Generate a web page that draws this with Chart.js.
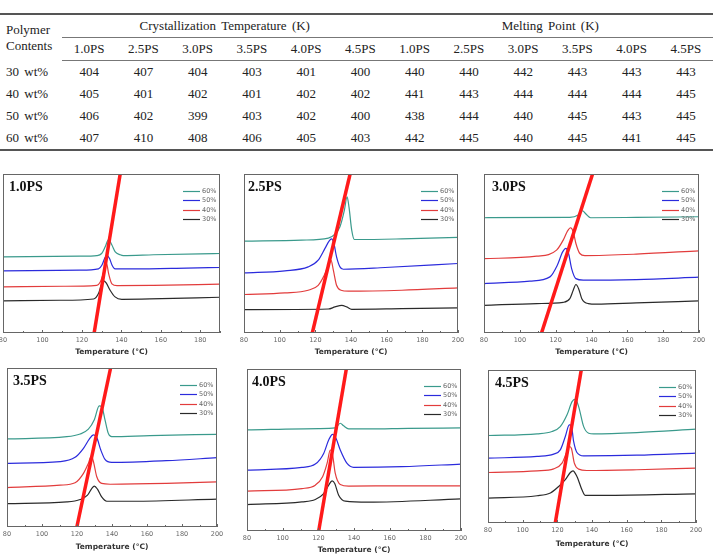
<!DOCTYPE html>
<html>
<head>
<meta charset="utf-8">
<script src="https://cdn.jsdelivr.net/npm/chart.js@4"></script>
<style>
  body { margin: 0; background: #fff; }
  #page { position: relative; width: 713px; height: 554px; overflow: hidden; background: #fff; }
  #tbl { position: absolute; left: 0; top: 13px; width: 713px; border-collapse: collapse; table-layout: fixed;
         font-family: "Liberation Serif", "Times New Roman", serif; font-size: 13px; color: #222; word-spacing: 2px; }
  #tbl td { padding: 0; text-align: center; height: 22px; line-height: 16px; }
  #tbl td.lab { text-align: left; padding-left: 6px; }
  #tbl tr.top td { border-top: 2px solid #555; }
  #tbl td.grp { border-bottom: 1px solid #777; }
  #tbl tr.sub td { border-bottom: 1px solid #777; }
  #tbl tr.last td { border-bottom: 2px solid #555; }
  canvas { position: absolute; }
</style>
</head>
<body>
<div id="page">
  <table id="tbl"></table>
</div>
<script>
// ---- table data ----
var contents = ['30  wt%', '40  wt%', '50  wt%', '60  wt%'];
var psGrades = ['1.0PS', '2.5PS', '3.0PS', '3.5PS', '4.0PS', '4.5PS'];
var crystTemp = [
  [404, 407, 404, 403, 401, 400],
  [405, 401, 402, 401, 402, 402],
  [406, 402, 399, 403, 402, 400],
  [407, 410, 408, 406, 405, 403]
];
var meltPoint = [
  [440, 440, 442, 443, 443, 443],
  [441, 443, 444, 444, 444, 445],
  [438, 444, 440, 445, 443, 445],
  [442, 445, 440, 445, 441, 445]
];

// ---- DSC curves, [temperature, signal] ----
var p1_60 = [[80,47.9],[119,48.3],[127.6,48.7],[130,50],[131.8,54.2],[133.5,58.8],[135.2,55.3],[136.9,51],[139.4,49.2],[141,48.7],[156.3,49.2],[179.9,49.8],[190,50]];
var p1_50 = [[80,39.1],[119,39.5],[128.4,40.3],[130.1,42.6],[131.5,46.8],[132.6,49],[134,46.8],[135.3,42.6],[136.8,40.3],[146,40.3],[173,40.8],[190,41.2]];
var p1_40 = [[80,29],[110.7,29.4],[127.6,30],[129.3,32.1],[130.6,36.5],[132.4,44.1],[133.6,37],[135.2,30.9],[137.8,29.8],[156.3,30],[190,30.7]];
var p1_30 = [[80,20.2],[109,20.6],[125.9,21.4],[128.4,24.8],[129.8,30],[131,32.8],[132.3,31.5],[134.3,26.9],[136.8,22.7],[140.2,21.2],[154.5,21.4],[190,22.5]];
var red1 = [[126.2,0],[139.4,100]];

var p2_60 = [[80,57.8],[112.3,58.4],[127.3,59.7],[131,62.2],[133.8,66.8],[136.3,77.3],[137.8,85.7],[138.9,79],[140.4,64.7],[141.9,58.8],[144,58.8],[168.5,59.2],[200,60.1]];
var p2_50 = [[80,37.8],[102.9,39.1],[116,41.6],[121.6,45.8],[125.4,53.2],[127.8,58],[129.1,59.2],[130.4,56.3],[131.9,47.9],[133.8,41.6],[135.7,40.1],[159.1,41.2],[200,43.7]];
var p2_40 = [[80,24.2],[102.9,25.2],[116,26.9],[121.6,30],[125,36.3],[127.3,42.6],[128.8,45.8],[130.1,39.5],[131.9,30],[134.4,26.9],[138.5,26.3],[168.5,26.9],[200,28.4]];
var p2_30 = [[80,14.7],[127.3,15.1],[131,16.4],[134.8,17.4],[137.6,16.4],[140.4,14.9],[168.5,15.3],[200,15.8]];
var red2 = [[118.3,0],[139.5,100]];

var p3_60 = [[80,72.5],[127.9,72.7],[132.6,74.2],[135,76.9],[136.9,74.8],[139.5,72.5],[165,72.7],[200,73.1]];
var p3_50 = [[80,31.1],[105.6,32.6],[116.8,35.3],[120.9,42.6],[123.9,51],[125.7,53.2],[127.2,50],[128.9,40.5],[131.3,34.2],[135.4,33.2],[165,33.6],[200,35.1]];
var p3_40 = [[80,46.8],[109.4,48.3],[120.5,52.1],[124.2,58.4],[126.4,63.7],[128.3,66.2],[129.8,63.7],[131.3,56.3],[133.5,50],[136.3,48.7],[165,49.6],[200,51.7]];
var p3_30 = [[80,17.4],[109.4,18.5],[124.2,19.3],[127.9,21.6],[129.8,26.9],[131.3,30.5],[132.8,27.9],[134.6,21.6],[138.2,18.5],[142.8,18.1],[165,18.9],[200,20.2]];
var red3 = [[112.1,0],[140.6,100]];

var p4_60 = [[80,55.4],[114.2,56.8],[121.8,58.5],[126.5,61.5],[129.9,67.4],[132.7,76.2],[134.1,75.8],[136,67.4],[137.9,58.9],[139.8,56.8],[161.7,57.5],[200,58.3]];
var p4_50 = [[80,40],[110.4,41.1],[118.9,43.8],[123.7,49.5],[127.1,55.4],[129.4,57.9],[131.3,56.2],[133.6,48.4],[136,42.5],[139.8,40.6],[171,41.7],[200,43.6]];
var p4_40 = [[80,24.8],[110.4,26.3],[118.9,27.8],[123.7,33.7],[126.5,40],[128.2,44.6],[129.4,41.1],[131.3,31.6],[134.1,27.4],[138.9,26.9],[171,27.4],[200,28.4]];
var p4_30 = [[80,14.7],[114.2,15.8],[121.8,17.3],[126,20],[128.4,24.2],[129.9,25.7],[131.7,23.8],[134.1,18.9],[137,16.2],[152,16.2],[200,17.5]];
var red4 = [[119.9,0],[139.2,100]];

var p5_60 = [[80,62.4],[120.2,63.2],[129.5,63.6],[132.3,66.5],[134.2,64.9],[137,63],[148.2,63],[170.6,63.4],[200,63.6]];
var p5_50 = [[80,37.6],[110.8,39.3],[118.3,41.3],[123,47.9],[125.8,56.2],[128,59.7],[129.9,57.2],[132.3,50],[136.1,41.7],[139.8,39.3],[167,39.7],[200,41.3]];
var p5_40 = [[80,24.6],[110.8,26.2],[118.3,28.3],[122.4,33.5],[124.9,41.7],[126.7,50],[128,46.9],[129.5,35.5],[132.3,28.7],[137,27.7],[167,27.9],[200,27.9]];
var p5_30 = [[80,16.3],[110.8,18],[118.3,19.4],[123,23.1],[125.8,28.3],[127.7,31],[129.2,29.3],[131.4,22.1],[135.1,18.4],[148,17.8],[200,19.8]];
var red5 = [[120.2,0],[135.7,100]];

var p6_60 = [[80,57.2],[108.3,58.3],[116.9,59.8],[121.7,63],[125.6,70.7],[128.5,79.3],[130.4,80.9],[132.3,76.1],[135.2,63],[138.1,58.7],[141,58.3],[165.9,59.1],[200,61.3]];
var p6_50 = [[80,42.4],[108.3,43.5],[117.9,45],[121.7,47.8],[124.6,56.5],[126.9,64.1],[128.1,63.5],[129.4,53.3],[131.3,46.1],[135.2,43.9],[165.9,44.3],[200,45.7]];
var p6_40 = [[80,33],[108.3,34.1],[117.9,35.4],[122.7,39.1],[125.2,45.7],[126.9,50],[128.1,48.9],[129.8,39.1],[132.3,35.2],[137,34.3],[165.9,34.8],[200,35.9]];
var p6_30 = [[80,16.3],[108.3,17.8],[116,19.6],[120.8,23.9],[124.6,28.3],[127.5,33],[129,34.1],[131.3,30.4],[134.2,21.7],[136.2,18],[146.8,18],[200,19.1]];
var red6 = [[118.8,0],[133.8,100]];

var seriesLabels = ['60%', '50%', '40%', '30%'];
var seriesColors = ['#3a9a8c', '#2b2bdc', '#e23c3c', '#2a2a2a'];

// panel placement: plot box left/top/right/bottom and x-title centre
var panels = [
  { name: '1.0PS', xmax: 190, curves: [p1_60, p1_50, p1_40, p1_30], red: red1, box: [3, 174, 220, 333], titleY: 352, lab: 6 },
  { name: '2.5PS', xmax: 200, curves: [p2_60, p2_50, p2_40, p2_30], red: red2, box: [244, 174, 458, 333], titleY: 352, lab: 4 },
  { name: '3.0PS', xmax: 200, curves: [p3_60, p3_50, p3_40, p3_30], red: red3, box: [484, 174, 699, 333], titleY: 352, lab: 8 },
  { name: '3.5PS', xmax: 200, curves: [p4_60, p4_50, p4_40, p4_30], red: red4, box: [7, 368, 217, 527], titleY: 547, lab: 6 },
  { name: '4.0PS', xmax: 200, curves: [p5_60, p5_50, p5_40, p5_30], red: red5, box: [247, 369, 461, 531], titleY: 550, lab: 5 },
  { name: '4.5PS', xmax: 200, curves: [p6_60, p6_50, p6_40, p6_30], red: red6, box: [488, 370, 696, 523], titleY: 544, lab: 7 }
];

// ---- build table ----
var tbl = document.getElementById('tbl');
var html = '<colgroup><col style="width:62px">';
for (var c = 0; c < 12; c++) html += '<col style="width:54.25px">';
html += '</colgroup>';
html += '<tr class="top"><td class="lab" rowspan="2">Polymer<br>Contents</td>' +
  '<td class="grp" colspan="6">Crystallization Temperature (K)</td>' +
  '<td class="grp" colspan="6">Melting Point (K)</td></tr>';
html += '<tr class="sub">';
psGrades.concat(psGrades).forEach(function(g) { html += '<td>' + g + '</td>'; });
html += '</tr>';
contents.forEach(function(name, r) {
  html += '<tr' + (r == contents.length - 1 ? ' class="last"' : '') + '><td class="lab">' + name + '</td>';
  crystTemp[r].concat(meltPoint[r]).forEach(function(v) { html += '<td>' + v + '</td>'; });
  html += '</tr>';
});
tbl.innerHTML = html;

// ---- panel decorations: frame, inward ticks, legend, panel name ----
var decor = {
  id: 'decor',
  afterDatasetsDraw: function(chart) {
    var ctx = chart.ctx, a = chart.chartArea, xs = chart.scales.x;
    ctx.save();
    ctx.strokeStyle = '#666';
    ctx.lineWidth = 1;
    ctx.strokeRect(a.left + 0.5, a.top + 0.5, a.right - a.left - 1, a.bottom - a.top - 1);
    xs.ticks.forEach(function(t) {
      var px = Math.round(xs.getPixelForValue(t.value)) + 0.5;
      var len = t.value % 20 == 0 ? 3 : 2;
      ctx.beginPath();
      ctx.moveTo(px, a.bottom);
      ctx.lineTo(px, a.bottom - len);
      ctx.stroke();
    });
    ctx.font = '6.5px "DejaVu Sans", sans-serif';
    ctx.textBaseline = 'middle';
    ctx.textAlign = 'left';
    chart.data.datasets.forEach(function(ds, i) {
      if (!ds.inLegend) return;
      var y = Math.round(a.top + 8 + i * 9.2) + 0.5;
      ctx.strokeStyle = ds.borderColor;
      ctx.lineWidth = 1.2;
      ctx.beginPath();
      ctx.moveTo(a.right - 37, y);
      ctx.lineTo(a.right - 20, y);
      ctx.stroke();
      ctx.fillStyle = '#666';
      ctx.fillText(ds.label, a.right - 18, y);
    });
    ctx.fillStyle = '#111';
    ctx.font = 'bold 14px "Liberation Serif", serif';
    ctx.fillText(chart.options.panelName, a.left + chart.options.panelLab, a.top + 13);
    ctx.restore();
  }
};

var PAD = 16;
var page = document.getElementById('page');
panels.forEach(function(p) {
  var L = p.box[0], T = p.box[1], R = p.box[2], B = p.box[3];
  var hx = Math.round(p.titleY + 4.5 - B);
  var cv = document.createElement('canvas');
  cv.width = R - L + 2 * PAD;
  cv.height = B - T + PAD + hx;
  cv.style.left = (L - PAD) + 'px';
  cv.style.top = (T - PAD) + 'px';
  page.appendChild(cv);

  var datasets = [{
    label: 'fit', inLegend: false, order: 0,
    data: p.red.map(function(d) { return { x: d[0], y: d[1] }; }),
    borderColor: '#ff1a1a', borderWidth: 3.5, tension: 0, pointRadius: 0
  }];
  p.curves.forEach(function(c, i) {
    datasets.push({
      label: seriesLabels[i], inLegend: true, order: 1,
      data: c.map(function(d) { return { x: d[0], y: d[1] }; }),
      borderColor: seriesColors[i], borderWidth: 1.2,
      cubicInterpolationMode: 'monotone', pointRadius: 0
    });
  });
  // legend rows follow curve order, so shift index past the red line
  datasets.forEach(function(ds, i) { ds._row = i - 1; });

  new Chart(cv, {
    type: 'line',
    data: { datasets: datasets },
    options: {
      panelName: p.name,
      panelLab: p.lab,
      responsive: false,
      animation: false,
      devicePixelRatio: 1,
      layout: { padding: { left: PAD, right: PAD, top: PAD, bottom: 0 } },
      plugins: { legend: { display: false }, tooltip: { enabled: false } },
      scales: {
        x: {
          type: 'linear', min: 80, max: p.xmax,
          grid: { display: false, drawTicks: false },
          border: { display: false },
          ticks: {
            stepSize: 10, autoSkip: false, maxRotation: 0, padding: 3,
            color: '#666', font: { size: 6.5, family: '"DejaVu Sans", sans-serif' },
            callback: function(v) { return v % 20 == 0 ? v : ''; }
          },
          title: {
            display: true, text: 'Temperature (\u00B0C)', padding: 0,
            color: '#333', font: { size: 7.5, weight: 'bold', family: '"DejaVu Sans", sans-serif' }
          },
          afterFit: function(s) { s.height = hx; }
        },
        y: { min: 0, max: 100, display: false }
      }
    },
    plugins: [decor]
  });
});
</script>
</body>
</html>
